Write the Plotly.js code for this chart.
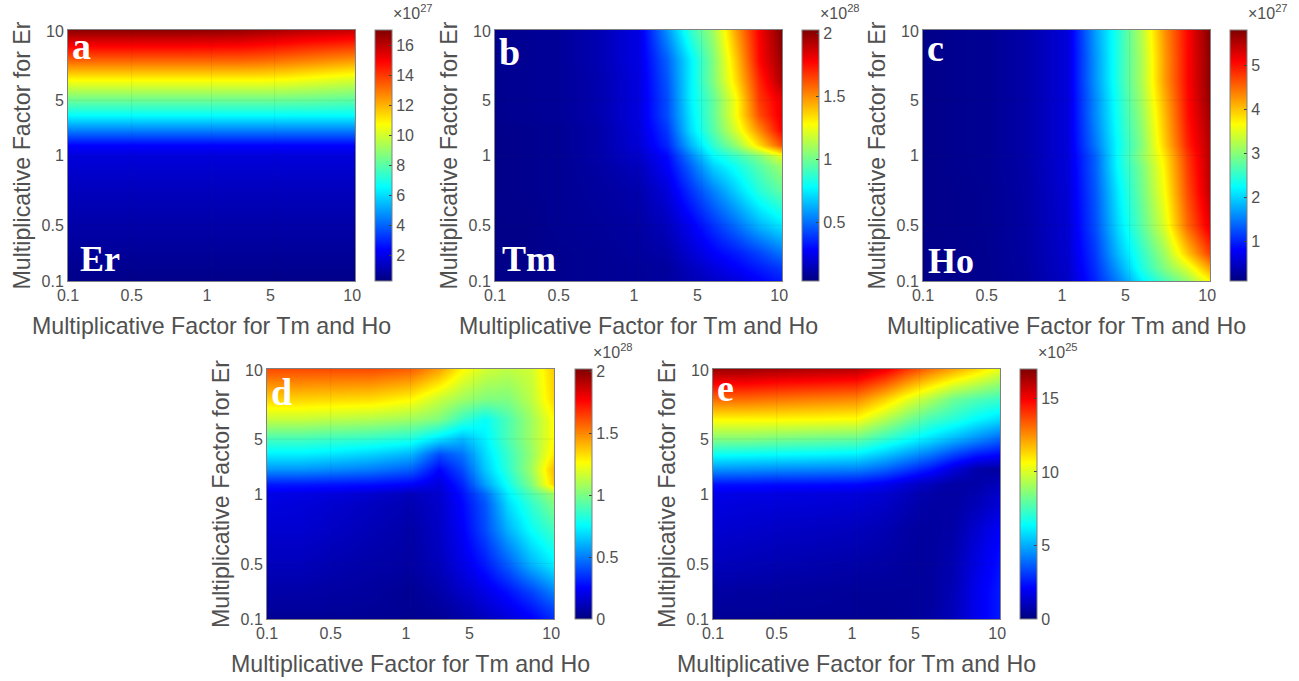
<!DOCTYPE html>
<html><head><meta charset="utf-8">
<script src="https://cdn.plot.ly/plotly-3.0.1.min.js"></script>
<style>html,body{margin:0;padding:0;background:#fff}#chart{width:1299px;height:681px}</style>
</head><body><div id="chart"></div>
<script>
// Axis node positions (fraction along each axis; the tick labels are not log or linear spaced)
const xNodes = [0,.11,.22,.36,.5,.6,.68,.76,.84,.92,1];
const yNodes = [0,.05,.11,.22,.36,.46,.5,.54,.6,.66,.72,.8,.88,1];
const tickLabels = ['0.1','0.5','1','5','10'];
const xLabelPos = [0,.222,.484,.705,.99];
const yLabelPos = [0,.22,.5,.72,.995];
const gridPos = [.222,.5,.72];

// Panel a: Er, x10^27 (rows bottom to top)
const zEr = [
[.44,.44,.44,.44,.44,.44,.44,.44,.44,.44,.44],
[.55,.55,.55,.55,.55,.55,.55,.55,.55,.55,.55],
[.69,.69,.69,.69,.69,.69,.69,.69,.69,.69,.69],
[.94,.94,.94,.94,.94,.94,.94,.94,.94,.94,.94],
[1.27,1.27,1.27,1.27,1.27,1.27,1.27,1.27,1.27,1.27,1.27],
[1.61,1.61,1.61,1.61,1.61,1.61,1.61,1.61,1.61,1.61,1.61],
[1.78,1.78,1.78,1.78,1.78,1.78,1.78,1.78,1.78,1.78,1.78],
[2.36,2.36,2.36,2.36,2.36,2.36,2.36,2.36,2.36,2.36,2.36],
[4.45,4.45,4.45,4.45,4.45,4.45,4.45,4.45,4.45,4.45,4.45],
[6.54,6.54,6.54,6.54,6.54,6.54,6.54,6.54,6.54,6.54,6.54],
[8.3,8.3,8.3,8.3,8.3,8.3,8.3,8.25,8.2,8.1,8.0],
[10.7,10.7,10.7,10.7,10.7,10.7,10.7,10.6,10.4,10.2,10.0],
[13.3,13.3,13.3,13.3,13.3,13.3,13.2,13.0,12.8,12.6,12.4],
[16.75,16.75,16.75,16.75,16.7,16.6,16.4,16.2,16.0,15.9,15.8]];

// Panel b: Tm, x10^28
const zTm = [
[.05,.05,.06,.07,.08,.09,.13,.17,.21,.27,.33],
[.05,.05,.06,.07,.08,.09,.15,.21,.27,.33,.39],
[.05,.05,.06,.07,.09,.11,.19,.27,.33,.41,.51],
[.05,.05,.07,.08,.10,.15,.25,.37,.49,.63,.73],
[.05,.06,.07,.09,.12,.21,.37,.53,.69,.85,.97],
[.05,.06,.07,.10,.15,.27,.47,.69,.81,.95,1.09],
[.05,.06,.07,.11,.18,.29,.53,.77,.89,1.03,1.23],
[.05,.06,.07,.11,.20,.35,.63,.87,1.07,1.35,1.63],
[.05,.06,.07,.11,.21,.39,.71,.95,1.21,1.51,1.79],
[.06,.07,.08,.12,.22,.43,.73,.97,1.27,1.63,1.83],
[.06,.07,.08,.12,.22,.43,.75,.97,1.27,1.67,1.83],
[.06,.07,.08,.12,.22,.45,.75,1.03,1.35,1.71,1.95],
[.06,.07,.08,.13,.23,.47,.75,1.03,1.39,1.77,1.99],
[.06,.07,.08,.13,.23,.57,.87,1.09,1.47,1.79,2.03]];

// Panel c: Ho, x10^27
const zHo = [
[.16,.17,.19,.27,.50,1.01,1.53,2.15,2.61,3.06,3.69],
[.16,.17,.19,.28,.52,1.07,1.70,2.38,2.95,3.46,4.20],
[.16,.17,.19,.29,.54,1.13,1.87,2.49,3.12,3.98,4.77],
[.16,.18,.20,.30,.56,1.24,2.04,2.72,3.46,4.49,5.23],
[.16,.18,.20,.31,.58,1.30,2.15,2.84,3.63,4.66,5.46],
[.16,.19,.21,.32,.60,1.35,2.27,2.90,3.72,4.74,5.50],
[.16,.19,.21,.33,.61,1.35,2.29,3.01,3.78,4.77,5.52],
[.16,.19,.21,.33,.61,1.47,2.27,2.95,3.92,4.89,5.52],
[.16,.19,.21,.33,.61,1.53,2.32,3.01,3.98,4.95,5.57],
[.16,.19,.21,.33,.61,1.58,2.35,3.06,4.03,5.00,5.63],
[.16,.19,.21,.33,.61,1.58,2.38,3.12,4.09,5.03,5.69],
[.16,.19,.21,.33,.61,1.64,2.44,3.18,4.20,5.06,5.74],
[.16,.19,.21,.33,.61,1.64,2.44,3.18,4.20,5.06,5.74],
[.16,.19,.21,.33,.61,1.70,2.44,3.24,4.26,5.06,5.80]];

// Panel d, x10^28
const zD = [
[.04,.04,.04,.04,.03,.04,.08,.12,.18,.24,.34],
[.06,.06,.06,.05,.04,.06,.10,.16,.22,.30,.40],
[.08,.08,.07,.06,.04,.08,.14,.20,.28,.38,.51],
[.12,.12,.10,.08,.07,.12,.20,.30,.44,.61,.73],
[.16,.16,.14,.11,.08,.14,.24,.40,.61,.77,.89],
[.19,.18,.16,.13,.10,.15,.26,.42,.69,.85,1.01],
[.21,.20,.19,.16,.12,.16,.28,.46,.73,.91,1.07],
[.30,.30,.29,.28,.25,.18,.32,.57,.79,1.01,1.37],
[.55,.55,.53,.50,.44,.26,.40,.65,.85,1.07,1.41],
[.73,.73,.71,.67,.61,.40,.48,.69,.87,1.05,1.31],
[.89,.89,.87,.85,.81,.69,.61,.73,.91,1.07,1.27],
[1.15,1.15,1.13,1.11,1.07,1.01,.87,.77,.91,1.07,1.27],
[1.35,1.35,1.34,1.33,1.27,1.15,1.07,1.01,1.01,1.13,1.35],
[1.62,1.62,1.62,1.62,1.58,1.45,1.27,1.17,1.13,1.17,1.37]];

// Panel e, x10^25
const zE = [
[.34,.34,.34,.34,.34,.34,.43,.60,1.02,1.87,2.55],
[.48,.48,.46,.44,.40,.37,.43,.54,.99,1.87,2.55],
[.60,.54,.51,.48,.43,.43,.43,.51,.94,1.87,2.55],
[1.02,.94,.85,.77,.68,.60,.51,.51,.85,1.70,2.38],
[1.36,1.28,1.19,1.11,1.02,.85,.60,.51,.68,1.36,2.04],
[1.62,1.53,1.50,1.45,1.36,1.19,.85,.60,.60,.94,1.45],
[1.79,1.70,1.67,1.62,1.53,1.36,1.02,.68,.60,.85,1.36],
[2.38,2.38,2.30,2.30,2.21,1.87,1.36,.94,.60,.68,1.02],
[4.59,4.51,4.42,4.34,4.25,3.74,3.06,2.38,1.45,.68,.51],
[6.55,6.46,6.38,6.29,6.12,5.44,4.76,4.08,3.23,2.55,2.21],
[8.5,8.5,8.33,8.16,7.99,7.14,6.46,5.78,5.10,4.42,3.74],
[10.71,10.71,10.71,10.63,10.54,9.35,8.33,7.48,6.97,6.29,5.78],
[13.09,13.09,12.92,12.75,12.58,11.39,10.2,9.18,8.16,7.65,7.31],
[16.5,16.5,16.3,16.15,16.0,15.13,13.94,12.92,12.07,11.22,10.2]];

const jet = [[0,'#00007f'],[.125,'#0000ff'],[.375,'#00ffff'],[.625,'#ffff00'],[.875,'#ff0000'],[1,'#7f0000']];
const W=1299,H=681, ink='#505050', font='"Liberation Sans",Arial,sans-serif';
const px=x=>x/W, py=y=>1-y/H;

const panels=[
 {z:zEr,L:68,R:355,T:30,B:281,cb:375,zmin:.27,zmax:17,ticks:[2,4,6,8,10,12,14,16],exp:'27',tag:'a',name:'Er',tagY:46,nameX:78,nameY:259},
 {z:zTm,L:495,R:782,T:30,B:281,cb:802,zmin:.03,zmax:2.03,ticks:[.5,1,1.5,2],exp:'28',tag:'b',name:'Tm',tagY:52,nameX:500,nameY:259},
 {z:zHo,L:923,R:1210,T:30,B:281,cb:1230,zmin:.1,zmax:5.8,ticks:[1,2,3,4,5],exp:'27',tag:'c',name:'Ho',tagY:48,nameX:926,nameY:261},
 {z:zD,L:267,R:554,T:369,B:619,cb:575,zmin:0,zmax:2.02,ticks:[0,.5,1,1.5,2],exp:'28',tag:'d',tagY:392},
 {z:zE,L:713,R:1000,T:369,B:619,cb:1020,zmin:0,zmax:17,ticks:[0,5,10,15],exp:'25',tag:'e',tagY:388}
];
const data=[],layout={width:W,height:H,margin:{l:0,r:0,t:0,b:0},paper_bgcolor:'#fff',plot_bgcolor:'#fff',showlegend:false,annotations:[],shapes:[],font:{family:font,color:ink}};
panels.forEach((p,i)=>{
  const n=i+1, xa='x'+(n>1?n:''), ya='y'+(n>1?n:'');
  data.push({type:'heatmap',x:xNodes,y:yNodes,z:p.z,xaxis:xa,yaxis:ya,zsmooth:'best',colorscale:jet,zmin:p.zmin,zmax:p.zmax,hoverinfo:'skip',
    colorbar:{x:px(p.cb),xanchor:'left',xref:'paper',y:py(p.B),yanchor:'bottom',yref:'paper',len:p.B-p.T,lenmode:'pixels',thickness:17,thicknessmode:'pixels',xpad:0,ypad:0,
      tickvals:p.ticks,ticks:'inside',ticklen:3,tickcolor:'#404040',tickwidth:1,tickfont:{family:font,size:16,color:ink},outlinecolor:'#808080',outlinewidth:1,borderwidth:0,ticklabelposition:'outside'}});
  layout['xaxis'+(n>1?n:'')]={domain:[px(p.L),px(p.R)],range:[0,1],anchor:ya,tickmode:'array',tickvals:xLabelPos,ticktext:tickLabels,ticks:'',showgrid:false,zeroline:false,
    showline:true,mirror:true,linecolor:'#808080',linewidth:1,tickfont:{family:font,size:16,color:ink},automargin:false,
    title:{text:'Multiplicative Factor for Tm and Ho',font:{family:font,size:23.2,color:ink},standoff:14}};
  layout['yaxis'+(n>1?n:'')]={domain:[py(p.B),py(p.T)],range:[0,1],anchor:xa,tickmode:'array',tickvals:yLabelPos,ticktext:tickLabels,ticks:'',showgrid:false,zeroline:false,
    showline:true,mirror:true,linecolor:'#808080',linewidth:1,tickfont:{family:font,size:16,color:ink},automargin:false,
    title:{text:'Multiplicative Factor for Er',font:{family:font,size:23.2,color:ink},standoff:4}};
  gridPos.forEach(g=>{
    layout.shapes.push({type:'line',xref:xa,yref:ya,x0:g,x1:g,y0:0,y1:1,line:{color:'rgba(40,40,40,.07)',width:1},layer:'above'});
    layout.shapes.push({type:'line',xref:xa,yref:ya,x0:0,x1:1,y0:g,y1:g,line:{color:'rgba(40,40,40,.07)',width:1},layer:'above'});
  });
  layout.annotations.push({xref:'paper',yref:'paper',x:px(p.cb+16),y:py(p.T-6),xanchor:'left',yanchor:'bottom',showarrow:false,text:'×10<sup>'+p.exp+'</sup>',font:{family:font,size:16,color:ink}});
  const serif={family:'"Liberation Serif","Times New Roman",serif',size:38,color:'#fff'};
  layout.annotations.push({xref:'paper',yref:'paper',x:px(p.L+2),y:py(p.tagY),xanchor:'left',yanchor:'middle',showarrow:false,text:'<b>'+p.tag+'</b>',font:serif});
  if(p.name) layout.annotations.push({xref:'paper',yref:'paper',x:px(p.nameX),y:py(p.nameY),xanchor:'left',yanchor:'middle',showarrow:false,text:'<b>'+p.name+'</b>',font:{family:serif.family,size:36,color:'#fff'}});
});
Plotly.newPlot('chart',data,layout,{displayModeBar:false,staticPlot:true});
</script></body></html>
